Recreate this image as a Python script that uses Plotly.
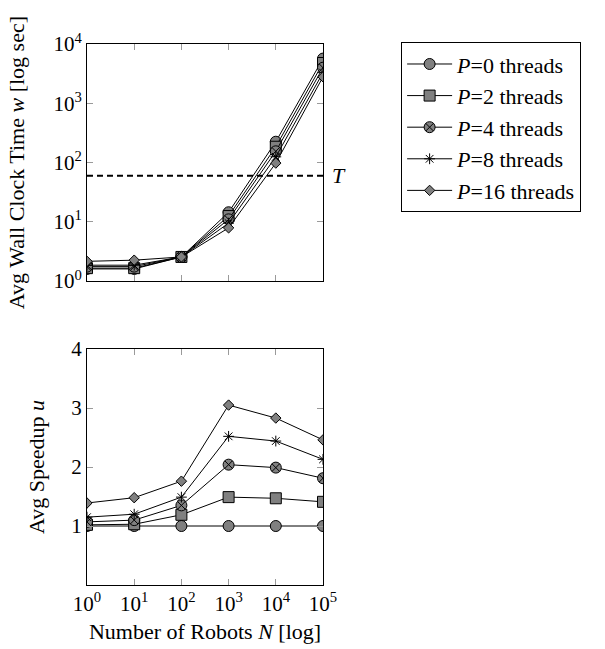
import plotly.graph_objects as go

N = [1, 10, 100, 1000, 10000, 100000]
threads = [0, 2, 4, 8, 16]
wall_time = {
    0: [1.6, 1.6, 2.55, 14.5, 225, 5700],
    2: [1.65, 1.65, 2.55, 12.5, 185, 4800],
    4: [1.75, 1.75, 2.55, 11.0, 155, 4000],
    8: [1.85, 1.85, 2.55, 9.5, 125, 3300],
    16: [2.15, 2.25, 2.55, 7.9, 98, 2800],
}
speedup = {
    0: [1.0, 1.0, 1.0, 1.0, 1.0, 1.0],
    2: [1.02, 1.03, 1.19, 1.49, 1.47, 1.41],
    4: [1.07, 1.1, 1.35, 2.04, 1.99, 1.81],
    8: [1.15, 1.2, 1.49, 2.52, 2.44, 2.13],
    16: [1.39, 1.48, 1.76, 3.05, 2.83, 2.46],
}
T = 60
x_tickvals = [1, 10, 100, 1000, 10000, 100000]
x_ticktext = ["10<sup>%d</sup>" % i for i in range(6)]
y1_tickvals = [1, 10, 100, 1000, 10000]
y1_ticktext = ["10<sup>%d</sup>" % i for i in range(5)]
y2_tickvals = [1, 2, 3, 4]

symbols = {0: "circle", 2: "square", 4: "circle-x", 8: "asterisk-open", 16: "diamond"}
sizes = {0: 11, 2: 11, 4: 11, 8: 9, 16: 8}
fills = {0: "#808080", 2: "#808080", 4: "#808080", 8: "black", 16: "#808080"}
FONT = "Liberation Serif"
TXT = 22
TICK = 21

fig = go.Figure()
for p in threads:
    mk = dict(symbol=symbols[p], size=sizes[p], color=fills[p],
              line=dict(color="black", width=1))
    fig.add_trace(go.Scatter(x=N, y=wall_time[p], mode="lines+markers",
                             name="<i>P</i>=%d threads" % p,
                             line=dict(color="black", width=1), marker=mk,
                             xaxis="x", yaxis="y", legendgroup=str(p)))
for p in threads:
    mk = dict(symbol=symbols[p], size=sizes[p], color=fills[p],
              line=dict(color="black", width=1))
    fig.add_trace(go.Scatter(x=N, y=speedup[p], mode="lines+markers",
                             name="<i>P</i>=%d threads" % p, showlegend=False,
                             line=dict(color="black", width=1), marker=mk,
                             xaxis="x2", yaxis="y2", legendgroup=str(p)))

axis_common = dict(showline=True, linecolor="black", linewidth=1, mirror="ticks",
                   ticks="inside", ticklen=6, tickcolor="#9a9a9a", tickwidth=1,
                   showgrid=False, zeroline=False, automargin=False,
                   tickfont=dict(family=FONT, size=TICK, color="black"))

fig.update_layout(
    width=605, height=649,
    margin=dict(l=0, r=0, t=0, b=0),
    paper_bgcolor="white", plot_bgcolor="white",
    font=dict(family=FONT, size=TXT, color="black"),
    xaxis=dict(type="log", range=[0, 5], domain=[0.1438, 0.5339], anchor="y",
               tickvals=x_tickvals, showticklabels=False, **axis_common),
    yaxis=dict(type="log", range=[0, 4], domain=[0.567, 0.932], anchor="x",
               tickvals=y1_tickvals, ticktext=y1_ticktext,
               title=dict(text="Avg Wall Clock Time <i>w</i> [log sec]",
                          font=dict(family=FONT, size=TXT), standoff=22),
               **axis_common),
    xaxis2=dict(type="log", range=[0, 5], domain=[0.1438, 0.5339], anchor="y2",
                tickvals=x_tickvals, ticktext=x_ticktext,
                title=dict(text="Number of Robots <i>N</i> [log]",
                           font=dict(family=FONT, size=TXT), standoff=8),
                **axis_common),
    yaxis2=dict(range=[0, 4], domain=[0.0986, 0.4622], anchor="x2",
                tickvals=y2_tickvals,
                title=dict(text="Avg Speedup <i>u</i>",
                           font=dict(family=FONT, size=TXT), standoff=20),
                **axis_common),
    legend=dict(x=0.663, y=0.935, xanchor="left", yanchor="top",
                bordercolor="black", borderwidth=1, bgcolor="white",
                font=dict(family=FONT, size=TXT, color="black"),
                itemwidth=45, tracegroupgap=0),
    showlegend=True,
)

fig.add_shape(type="line", xref="x domain", yref="y", x0=0, x1=1, y0=T, y1=T,
              line=dict(color="black", width=2, dash="6px,4px"))
fig.add_annotation(xref="x domain", yref="y", x=1.03, y=1.778, text="<i>T</i>",
                   showarrow=False, xanchor="left",
                   font=dict(family=FONT, size=TXT, color="black"))

fig.write_html("out.html", config={"displayModeBar": False},
               post_script="document.body.style.margin='0';document.body.style.padding='0';")
